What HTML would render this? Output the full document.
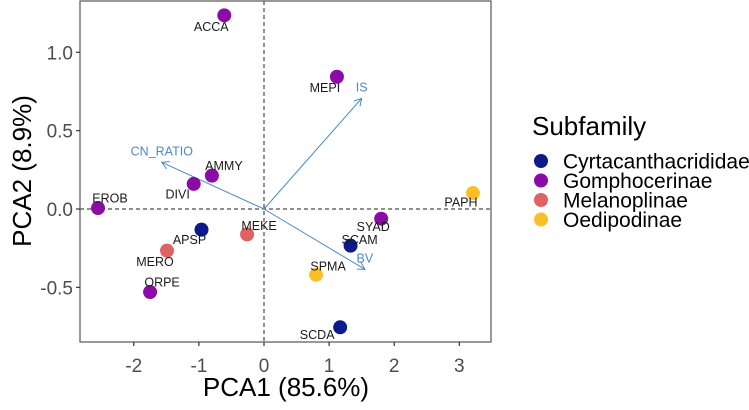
<!DOCTYPE html>
<html><head><meta charset="utf-8"><style>
body{margin:0;background:#fff}
svg text{font-family:"Liberation Sans",Arial,sans-serif}
</style></head><body>
<svg id="chart" width="749" height="405">
<g id="panel"></g>
<text x="286" y="396" text-anchor="middle" font-size="26" fill="#000">PCA1 (85.6%)</text>
<text transform="translate(31,171) rotate(-90)" text-anchor="middle" font-size="26" fill="#000">PCA2 (8.9%)</text>
<g>
<text x="532" y="135" font-size="26" fill="#000">Subfamily</text>
<g id="legend-items"></g>
</g>
</svg>
<script>
const names=["ACCA","MEPI","AMMY","DIVI","EROB","APSP","MEKE","MERO","ORPE","SYAD","SCAM","SPMA","SCDA","PAPH"];
const pc1=[-0.61,1.12,-0.80,-1.08,-2.55,-0.96,-0.26,-1.49,-1.75,1.80,1.33,0.80,1.17,3.21];
const pc2=[1.236,0.844,0.213,0.16,0.006,-0.132,-0.162,-0.266,-0.53,-0.062,-0.234,-0.42,-0.755,0.102];
const groups=[1,1,1,1,1,0,2,2,1,1,0,3,0,3];
const subfamilies=["Cyrtacanthacrididae","Gomphocerinae","Melanoplinae","Oedipodinae"];
const vecNames=["IS","CN_RATIO","BV"];
const vecX=[1.50,-1.57,1.55];
const vecY=[0.706,0.298,-0.385];
const xTicks=[-2,-1,0,1,2,3];
const yTicks=[-0.5,0.0,0.5,1.0];
const xTickLabels=["-2","-1","0","1","2","3"];
const yTickLabels=["-0.5","0.0","0.5","1.0"];
const colors=["#0d1a8a","#8c0ba6","#e06363","#fdbf28"];
const labelOff=[[-13,11],[-12,11],[12,-10],[-16,10],[12,-10],[-12,10],[12,-9],[-12,11],[12,-10],[-8,8],[9,-6],[12,-9],[-23,7],[-12,9]];
const L=80,R=491,T=1,B=342;
const sx=v=>264+v*65.1, sy=v=>209-v*156.7;
const NS="http://www.w3.org/2000/svg";
const panel=document.getElementById('panel');
function mk(tag,attrs,parent){const e=document.createElementNS(NS,tag);for(const k in attrs)e.setAttribute(k,attrs[k]);(parent||panel).appendChild(e);return e;}
const svg=document.getElementById('chart');
const defs=mk('defs',{},svg);
const mkr=mk('marker',{id:'ah',markerWidth:'10',markerHeight:'10',refX:'8',refY:'5',orient:'auto',markerUnits:'userSpaceOnUse'},defs);
mk('path',{d:'M1,1 L8,5 L1,9',fill:'none',stroke:'#4a8ac4','stroke-width':'1'},mkr);
let h=mk('line',{x1:L,x2:R,y1:sy(0),y2:sy(0),stroke:'#222','stroke-dasharray':'4,3'});

let v=mk('line',{x1:sx(0),x2:sx(0),y1:T,y2:B,stroke:'#222','stroke-dasharray':'4,3'});

vecNames.forEach((n,i)=>{
 const l=mk('line',{x1:sx(0),y1:sy(0),x2:sx(vecX[i]),y2:sy(vecY[i]),stroke:'#4a8ac4','stroke-width':'1','marker-end':'url(#ah)'});
 
 const t=mk('text',{x:sx(vecX[i]),y:sy(vecY[i])-7,'text-anchor':'middle','font-size':'12.5',fill:'#4a8ac4'});
 t.textContent=n;
});
names.forEach((n,i)=>{
 const c=mk('circle',{cx:sx(pc1[i]),cy:sy(pc2[i]),r:7,fill:colors[groups[i]]});
 
 const t=mk('text',{x:sx(pc1[i])+labelOff[i][0],y:sy(pc2[i])+labelOff[i][1]+4.5,'text-anchor':'middle','font-size':'12.5',fill:'#1a1a1a'});
 t.textContent=n;
});
let bd=mk('rect',{x:L,y:T,width:R-L,height:B-T,fill:'none',stroke:'#555','stroke-width':'1.2'});

xTicks.forEach((t,i)=>{
 const tk=mk('line',{x1:sx(t),x2:sx(t),y1:B,y2:B+4,stroke:'#333','stroke-width':'1.2'});
 
 const tx=mk('text',{x:sx(t),y:B+30,'text-anchor':'middle','font-size':'19',fill:'#4d4d4d'});
 tx.textContent=xTickLabels[i];
});
yTicks.forEach((t,i)=>{
 const tk=mk('line',{x1:L-4,x2:L,y1:sy(t),y2:sy(t),stroke:'#333','stroke-width':'1.2'});
 
 const tx=mk('text',{x:L-7,y:sy(t)+7,'text-anchor':'end','font-size':'19',fill:'#4d4d4d'});
 tx.textContent=yTickLabels[i];
});
const lg=document.getElementById('legend-items');
subfamilies.forEach((s,i)=>{
 const y=161+i*19.5;
 const c=mk('circle',{cx:541,cy:y,r:7,fill:colors[i]},lg);
 
 const t=mk('text',{x:563,y:y+7.5,'font-size':'21',fill:'#000'},lg);
 t.textContent=s;
});
</script>
</body></html>
